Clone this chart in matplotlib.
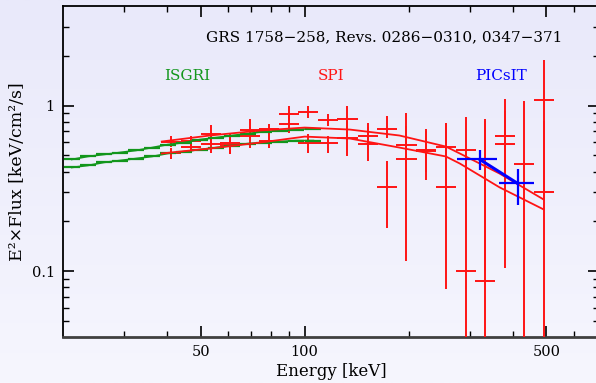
import matplotlib
matplotlib.use("Agg")
import matplotlib.pyplot as plt
import numpy as np
from matplotlib.colors import LinearSegmentedColormap
from matplotlib.ticker import FixedLocator, NullFormatter, FixedFormatter

# ── data ────────────────────────────────────────────────────────────
# ISGRI spectra (two epochs), bin centres in keV
isgri_e = [21.2, 23.6, 26.3, 29.2, 32.5, 36.2, 40.2, 44.8, 49.8, 55.4,
           61.6, 68.5, 76.2, 84.8, 94.3, 106]
isgri_a = [0.473, 0.493, 0.507, 0.521, 0.536, 0.558, 0.582, 0.598, 0.624,
           0.641, 0.660, 0.678, 0.697, 0.707, 0.717, 0.727]
isgri_b = [0.423, 0.435, 0.454, 0.466, 0.479, 0.493, 0.514, 0.528, 0.543,
           0.558, 0.574, 0.590, 0.598, 0.607, 0.615, 0.615]

# SPI spectrum A
spi_a_e = [41, 46.9, 53.6, 60.8, 69.4, 78.8, 90, 102, 117, 133, 152, 173,
           197, 225, 256, 292, 332, 379, 430, 491]
spi_a_f = [0.607, 0.615, 0.678, 0.598, 0.717, 0.727, 0.895, 0.920, 0.823,
           0.835, 0.660, 0.727, 0.582, 0.543, 0.566, 0.536, 0.473, 0.651,
           0.441, 1.087]
spi_a_lo = [0.566, 0.566, 0.598, 0.507, 0.641, 0.669, 0.812, 0.847, 0.758,
            0.660, 0.536, 0.641, 0.353, 0.353, 0.268, 0.177, 0.101, 0.400,
            0.010, 0.295]
spi_a_hi = [0.651, 0.660, 0.768, 0.688, 0.835, 0.779, 1.000, 1.000, 0.895,
            1.000, 0.790, 0.871, 0.907, 0.727, 0.790, 0.859, 0.835, 1.102,
            1.072, 1.893]

# SPI spectrum B
spi_b_e = [41, 46.9, 53.6, 60.8, 69.4, 78.8, 90, 102, 117, 133, 152, 173,
           197, 225, 256, 292, 332, 379, 491]
spi_b_f = [0.514, 0.566, 0.590, 0.582, 0.651, 0.615, 0.779, 0.598, 0.598,
           0.641, 0.590, 0.321, 0.473, 0.530, 0.321, 0.100, 0.0871, 0.590,
           0.299]
spi_b_lo = [0.479, 0.521, 0.521, 0.507, 0.558, 0.558, 0.688, 0.521, 0.521,
            0.493, 0.466, 0.182, 0.115, 0.400, 0.078, 0.010, 0.010, 0.104,
            0.010]
spi_b_hi = [0.558, 0.615, 0.651, 0.669, 0.747, 0.669, 0.871, 0.678, 0.660,
            0.812, 0.747, 0.466, 0.758, 0.700, 0.790, 0.466, 0.812, 0.933,
            0.812]

# PICsIT
pic_e = [321, 413]
pic_f = [0.473, 0.339]
pic_elo = [275, 364]
pic_ehi = [361, 462]
pic_lo = [0.406, 0.250]
pic_hi = [0.536, 0.417]

# model curves
mod_e = [38.6, 53.2, 74.2, 100, 135, 188, 256, 281, 366, 491]
mod_a = [0.607, 0.660, 0.707, 0.737, 0.717, 0.660, 0.566, 0.514, 0.389, 0.271]
mod_b = [0.514, 0.551, 0.598, 0.650, 0.633, 0.558, 0.493, 0.447, 0.321, 0.236]

RED = "#FF1414"
GREEN = "#12961C"
BLUE = "#0000FF"

plt.rcParams["font.family"] = "DejaVu Serif"

fig = plt.figure(figsize=(5.96, 3.83), dpi=100)

# lavender background gradient
bg = fig.add_axes([0, 0, 1, 1], zorder=-10)
grad = np.linspace(0, 1, 256).reshape(-1, 1)
cmap = LinearSegmentedColormap.from_list("bg", ["#E9E9FA", "#F6F6FE"])
bg.imshow(grad, aspect="auto", cmap=cmap, extent=[0, 1, 0, 1])
bg.axis("off")

ax = fig.add_axes([63 / 596, 46 / 383, 536 / 596, 331 / 383])
ax.set_facecolor("none")
ax.set_xscale("log")
ax.set_yscale("log")
ax.set_xlim(20, 710)
ax.set_ylim(0.04, 4)

HW = 10 ** 0.029  # half bin width factor (log)


def spi(e, f, lo, hi):
    e = np.array(e); f = np.array(f)
    xerr = [e - e / HW, e * HW - e]
    yerr = [f - np.array(lo), np.array(hi) - f]
    ax.errorbar(e, f, xerr=xerr, yerr=yerr, fmt="none", ecolor=RED,
                elinewidth=1.4, capsize=0, zorder=3)


spi(spi_a_e, spi_a_f, spi_a_lo, spi_a_hi)
spi(spi_b_e, spi_b_f, spi_b_lo, spi_b_hi)

for vals in (isgri_a, isgri_b):
    e = np.array(isgri_e); f = np.array(vals)
    hw = 10 ** 0.0231
    ax.errorbar(e, f, xerr=[e - e / hw, e * hw - e], yerr=0.008 * f,
                fmt="none", ecolor=GREEN, elinewidth=1.6, capsize=0, zorder=4)
    ax.plot(e, f, color=GREEN, lw=1.2, zorder=4)

ax.plot(mod_e, mod_a, color=RED, lw=1.3, zorder=5)
ax.plot(mod_e, mod_b, color=RED, lw=1.3, zorder=5)

pe = np.array(pic_e); pf = np.array(pic_f)
ax.errorbar(pe, pf, xerr=[pe - np.array(pic_elo), np.array(pic_ehi) - pe],
            yerr=[pf - np.array(pic_lo), np.array(pic_hi) - pf],
            fmt="none", ecolor=BLUE, elinewidth=1.6, capsize=0, zorder=6)
ax.plot(pic_e, pic_f, color=BLUE, lw=2.2, zorder=6)

# ticks
ax.xaxis.set_major_locator(FixedLocator([50, 100, 500]))
ax.xaxis.set_major_formatter(FixedFormatter(["50", "100", "500"]))
ax.xaxis.set_minor_locator(FixedLocator([30, 40, 60, 70, 80, 90, 200, 300, 400, 600, 700]))
ax.xaxis.set_minor_formatter(NullFormatter())
ax.yaxis.set_major_locator(FixedLocator([0.1, 1]))
ax.yaxis.set_major_formatter(FixedFormatter(["0.1", "1"]))
ax.yaxis.set_minor_locator(FixedLocator([0.05, 0.06, 0.07, 0.08, 0.09, 0.2, 0.3, 0.4,
                                         0.5, 0.6, 0.7, 0.8, 0.9, 2, 3]))
ax.yaxis.set_minor_formatter(NullFormatter())
ax.tick_params(which="both", direction="in", top=True, right=True, color="black",
               labelsize=10.5, pad=6)
ax.tick_params(which="major", length=8, width=1.2)
ax.tick_params(which="minor", length=4, width=1.0)
for s in ax.spines.values():
    s.set_linewidth(1.3)
ax.spines["bottom"].set_color("#404040")
ax.spines["bottom"].set_linewidth(2)

ax.set_xlabel("Energy [keV]", fontsize=12, labelpad=3)
ax.set_ylabel("E²×Flux [keV/cm²/s]", fontsize=12.5, labelpad=4)

fig.text(384 / 596, 1 - 37 / 383, "GRS 1758−258, Revs. 0286−0310, 0347−371",
         ha="center", va="center", fontsize=11)
fig.text(187 / 596, 1 - 76 / 383, "ISGRI", color=GREEN, ha="center", va="center", fontsize=11)
fig.text(331 / 596, 1 - 76 / 383, "SPI", color=RED, ha="center", va="center", fontsize=11)
fig.text(501 / 596, 1 - 76 / 383, "PICsIT", color=BLUE, ha="center", va="center", fontsize=11)

fig.savefig("out.png", dpi=100)
